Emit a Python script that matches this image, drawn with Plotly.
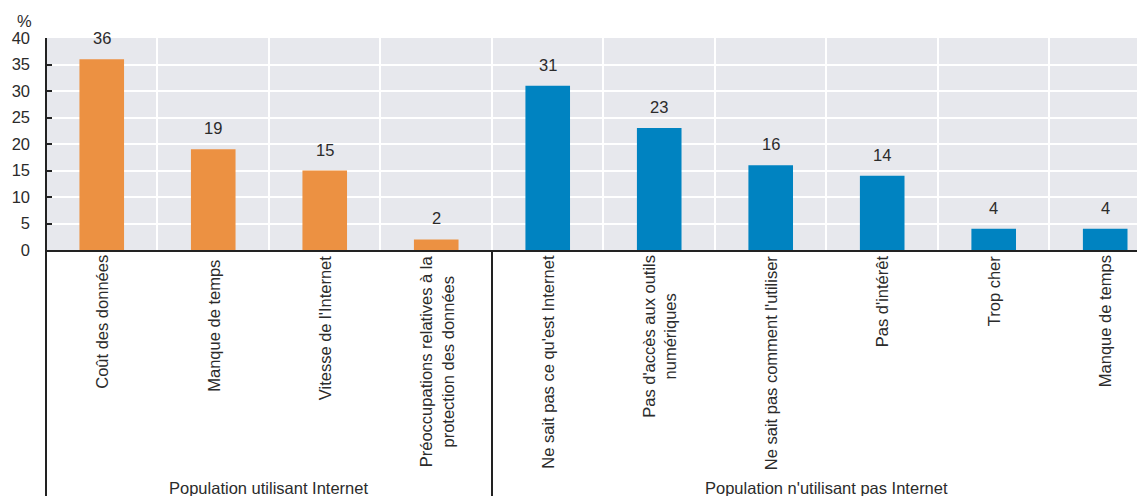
import plotly.graph_objects as go

categories = ["Coût des données", "Manque de temps ", "Vitesse de l'Internet",
              "Préoccupations relatives à la<br>protection des données",
              "Ne sait pas ce qu'est Internet", "Pas d'accès aux outils<br>numériques",
              "Ne sait pas comment l'utiliser", "Pas d'intérêt", "Trop cher", "Manque de temps"]
values = [36, 19, 15, 2, 31, 23, 16, 14, 4, 4]
group_names = ["Population utilisant Internet", "Population n'utilisant pas Internet"]
group_sizes = [4, 6]
yticks = [0, 5, 10, 15, 20, 25, 30, 35, 40]

FONT = "Liberation Sans Narrow, Arial Narrow, Liberation Sans, Arial, sans-serif"
FS = 16.5
ORANGE = "#EC9142"
BLUE = "#0083C1"
TXT = "#2b2b2b"

colors = [ORANGE] * group_sizes[0] + [BLUE] * group_sizes[1]

fig = go.Figure()
fig.add_trace(go.Bar(x=categories, y=values, marker=dict(color=colors, line=dict(width=0)),
                     width=0.4, hoverinfo="x+y"))

H_PLOT = 212.0
B = 246.0
annotations = []
for c, v in zip(categories, values):
    annotations.append(dict(x=c, y=v, xref="x", yref="y", text=str(v), showarrow=False,
                            yanchor="bottom", yshift=10, font=dict(family=FONT, size=FS, color=TXT)))
    annotations.append(dict(x=c, y=0, xref="x", yref="paper", text=c, showarrow=False,
                            textangle=-90, yanchor="top", xanchor="center", yshift=-3,
                            align="center", font=dict(family=FONT, size=FS, color=TXT)))

start = 0
for name, n in zip(group_names, group_sizes):
    mid = start + (n - 1) / 2.0
    annotations.append(dict(x=mid, y=-238 / H_PLOT, xref="x", yref="paper", text=name,
                            showarrow=False, yanchor="middle", xanchor="center",
                            font=dict(family=FONT, size=FS, color=TXT)))
    start += n

annotations.append(dict(x=0, y=1, xref="paper", yref="paper", text="%", showarrow=False,
                        xanchor="right", yanchor="bottom", xshift=-12, yshift=6,
                        font=dict(family=FONT, size=FS, color=TXT)))

shapes = [
    dict(type="line", xref="paper", yref="paper", x0=0, x1=0, y0=1, y1=-B / H_PLOT,
         line=dict(color="#222222", width=2)),
    dict(type="line", xref="x", yref="paper", x0=group_sizes[0] - 0.5, x1=group_sizes[0] - 0.5,
         y0=0, y1=-B / H_PLOT, line=dict(color="#222222", width=2)),
]

fig.update_layout(
    width=1137, height=488,
    margin=dict(l=38, r=0, t=30, b=246, autoexpand=False),
    paper_bgcolor="white", plot_bgcolor="#E7E8ED",
    showlegend=False, bargap=0.6,
    annotations=annotations, shapes=shapes,
    font=dict(family=FONT, size=FS, color=TXT),
    xaxis=dict(type="category", range=[-0.5, 9.357], tickson="boundaries", automargin=False,
               showgrid=True, gridcolor="white", gridwidth=2, showticklabels=False,
               ticks="", showline=True, linecolor="#222222", linewidth=2, zeroline=False,
               fixedrange=True),
    yaxis=dict(range=[0, 40], tickvals=yticks, showgrid=True, gridcolor="white", gridwidth=2,
               automargin=False,
               ticks="inside", ticklen=6, tickwidth=2, tickcolor="#222222",
               showline=False, zeroline=False, ticklabelstandoff=15,
               tickfont=dict(family=FONT, size=FS, color=TXT), fixedrange=True),
)

fig.write_html("out.html")
